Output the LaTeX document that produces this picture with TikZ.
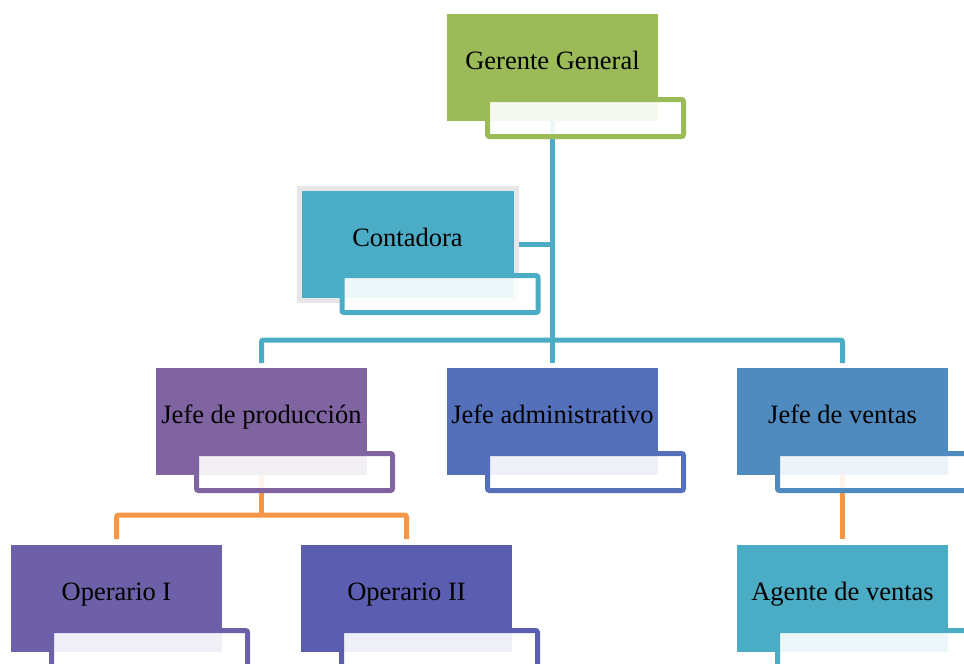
\documentclass[tikz,border=0pt]{standalone}
\usepackage{fontspec}
\setmainfont{Liberation Serif}
\usepackage{tikz}
\usetikzlibrary{positioning,backgrounds}
\definecolor{gerGreen}{HTML}{9BBB59}
\definecolor{contTeal}{HTML}{4BACC6}
\definecolor{prodPurple}{HTML}{8064A2}
\definecolor{adminBlue}{HTML}{5470BA}
\definecolor{ventasBlue}{HTML}{4F8BBF}
\definecolor{opPurple}{HTML}{6E60A8}
\definecolor{opIndigo}{HTML}{5B5DB0}
\definecolor{frameGray}{HTML}{E6E6E6}
\definecolor{linkOrange}{HTML}{F79646}
\tikzset{
  rolebox/.style={rectangle, fill=#1, inner sep=0pt, outer sep=0pt,
    minimum width=211pt, text height=55pt, text depth=52pt,
    align=center, font=\fontsize{26.5}{30}\selectfont},
  tagbox/.style={rectangle, draw=#1, line width=5pt, fill=white,
    fill opacity=0.9, rounded corners=2pt, minimum width=196pt,
    minimum height=37pt, inner sep=0pt, outer sep=0pt, anchor=north west},
  tealline/.style={draw=contTeal, line width=5pt, rounded corners=2pt},
  orangeline/.style={draw=linkOrange, line width=5pt, rounded corners=2pt},
}
\begin{document}
\begin{tikzpicture}[x=1pt, y=-1pt, node distance=70pt and 80pt]
  \useasboundingbox (0,0) rectangle (964,664);

  % top
  \node[rolebox=gerGreen] (ger) at (552.5,67.5) {Gerente General};
  \node[tagbox=gerGreen] (gerS) at ([xshift=40.5pt,yshift=21.5pt]ger.south west) {};

  \node[rolebox=contTeal, draw=frameGray, line width=5pt, inner sep=2.5pt,
    minimum width=217pt] (cont) at (407.5,244.5) {Contadora};
  \node[tagbox=contTeal] (contS) at ([xshift=43pt,yshift=25pt]cont.south west) {};

  % jefes
  \node[rolebox=adminBlue, below=247pt of ger] (ja) {Jefe administrativo};
  \node[tagbox=adminBlue] (jaS) at ([xshift=40.5pt,yshift=21.5pt]ja.south west) {};
  \node[rolebox=prodPurple, left=of ja] (jp) {Jefe de producción};
  \node[tagbox=prodPurple] (jpS) at ([xshift=40.5pt,yshift=21.5pt]jp.south west) {};
  \node[rolebox=ventasBlue, right=79pt of ja] (jv) {Jefe de ventas};
  \node[tagbox=ventasBlue] (jvS) at ([xshift=40.5pt,yshift=21.5pt]jv.south west) {};

  % tercer nivel
  \node[rolebox=opIndigo, below=of jp, xshift=145pt] (op2) {Operario II};
  \node[tagbox=opIndigo] (op2S) at ([xshift=40.5pt,yshift=21.5pt]op2.south west) {};
  \node[rolebox=opPurple, left=79pt of op2] (op1) {Operario I};
  \node[tagbox=opPurple] (op1S) at ([xshift=40.5pt,yshift=21.5pt]op1.south west) {};
  \node[rolebox=contTeal, below=of jv] (ag) {Agente de ventas};
  \node[tagbox=contTeal] (agS) at ([xshift=40.5pt,yshift=21.5pt]ag.south west) {};

  \begin{scope}[on background layer]
    \coordinate (hub) at ([yshift=28pt]ja.north);
    \coordinate (prodhub) at ([yshift=-40pt]jp.south);
    \draw[tealline, shorten >=5pt] (ger.south) -- (ja.north);
    \draw[tealline] (cont.east) -- (cont.east -| ja.north);
    \draw[tealline, shorten <=5pt, shorten >=5pt] (jp.north) |- (hub) -| (jv.north);
    \draw[orangeline] (jp.south) -- (prodhub);
    \draw[orangeline, shorten <=6pt, shorten >=6pt] (op1.north) |- (prodhub) -| (op2.north);
    \draw[orangeline, shorten >=6pt] (jv.south) -- (ag.north);
  \end{scope}
\end{tikzpicture}
\end{document}
